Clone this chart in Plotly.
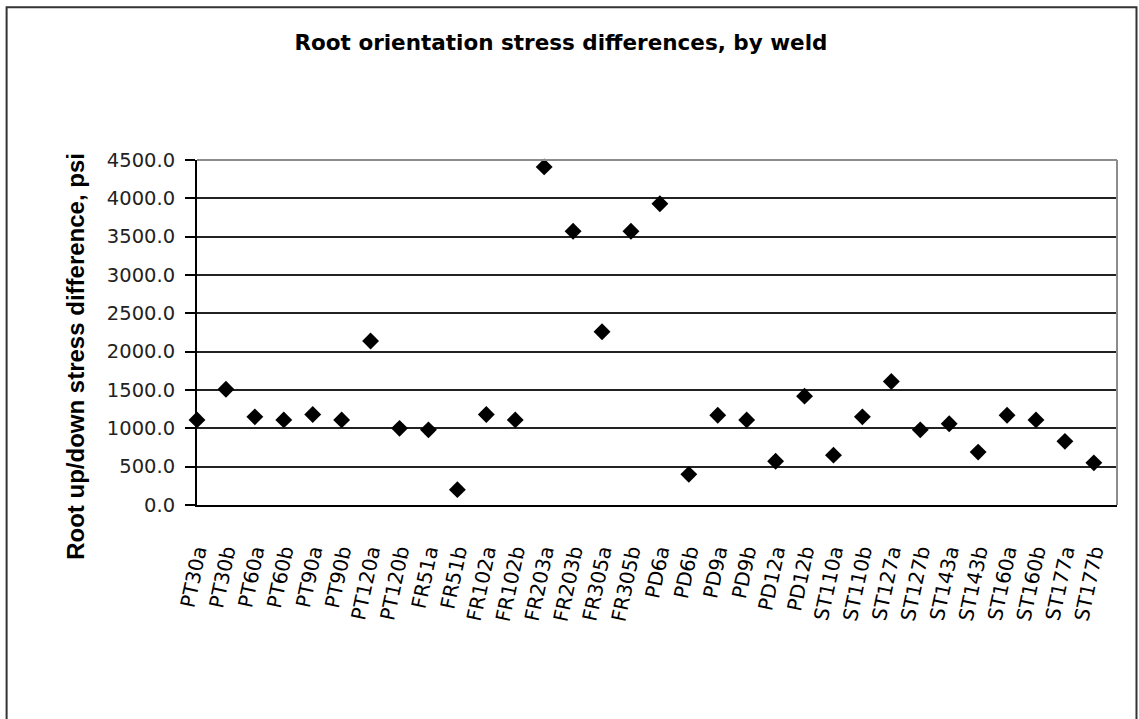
import plotly.graph_objects as go

welds = ["PT30a", "PT30b", "PT60a", "PT60b", "PT90a", "PT90b", "PT120a", "PT120b",
         "FR51a", "FR51b", "FR102a", "FR102b", "FR203a", "FR203b", "FR305a", "FR305b",
         "PD6a", "PD6b", "PD9a", "PD9b", "PD12a", "PD12b",
         "ST110a", "ST110b", "ST127a", "ST127b", "ST143a", "ST143b", "ST160a", "ST160b",
         "ST177a", "ST177b"]
stress_diff = [1110, 1510, 1150, 1110, 1180, 1110, 2140, 1000,
               980, 200, 1180, 1110, 4410, 3570, 2260, 3570,
               3930, 400, 1170, 1110, 570, 1420,
               650, 1150, 1610, 980, 1060, 690, 1170, 1110,
               830, 550]
y_ticks = [0, 500, 1000, 1500, 2000, 2500, 3000, 3500, 4000, 4500]
y_ticklabels = ["%.1f" % v for v in y_ticks]

title_text = "Root orientation stress differences, by weld"
ytitle_text = "Root up/down stress difference, psi"

W, H = 1139, 719
L, R, T, B = 197, 1117.5, 159.5, 505

fig = go.Figure()
fig.add_trace(go.Scatter(
    x=welds, y=stress_diff, mode="markers",
    marker=dict(symbol="diamond", size=13, color="black"),
    cliponaxis=False, showlegend=False,
))

def px_x(p):
    return (p - L) / (R - L)

def px_y(p):
    return (B - p) / (B - T)

fig.update_layout(
    width=W, height=H,
    margin=dict(l=L, r=W - R, t=T, b=H - B, pad=0),
    paper_bgcolor="white", plot_bgcolor="white",
    title=dict(text=title_text, x=561 / W, xanchor="center",
               y=1 - 42 / H, yanchor="middle",
               font=dict(family="DejaVu Sans", size=21.5, color="black", weight="bold")),
    xaxis=dict(type="category", range=[0, 31.8], autorange=False,
               showgrid=False, showline=True, linecolor="black", linewidth=2,
               ticks="", tickangle=-78, ticklabelstandoff=25,
               tickfont=dict(family="DejaVu Sans", size=20, color="black"),
               automargin=False, layer="below traces"),
    yaxis=dict(range=[0, 4500], autorange=False, tickvals=y_ticks, ticktext=y_ticklabels,
               showgrid=True, gridcolor="#222222", gridwidth=2,
               showline=True, linecolor="black", linewidth=2,
               ticks="outside", ticklen=10, tickwidth=2, tickcolor="black",
               ticklabelstandoff=6,
               tickfont=dict(family="DejaVu Sans", size=19.5, color="#222222"),
               zeroline=False, automargin=False, layer="below traces"),
)

fig.add_annotation(
    text=ytitle_text, textangle=-90, showarrow=False,
    xref="paper", yref="paper", x=px_x(76), y=px_y(356.5),
    xanchor="center", yanchor="middle",
    font=dict(family="Liberation Sans", size=24, color="black", weight="bold"),
)

# plot-area border (top & right) in gray
fig.add_shape(type="line", xref="paper", yref="paper", x0=0, x1=1, y0=1, y1=1,
              line=dict(color="#8c8c8c", width=2), layer="above")
fig.add_shape(type="line", xref="paper", yref="paper", x0=1, x1=1, y0=0, y1=1,
              line=dict(color="#8c8c8c", width=2), layer="above")
# outer chart frame
fig.add_shape(type="rect", xref="paper", yref="paper",
              x0=px_x(6.5), x1=px_x(1137), y0=px_y(730), y1=px_y(6.5),
              line=dict(color="#333333", width=2), fillcolor="rgba(0,0,0,0)", layer="above")

fig.write_html("out.html")
